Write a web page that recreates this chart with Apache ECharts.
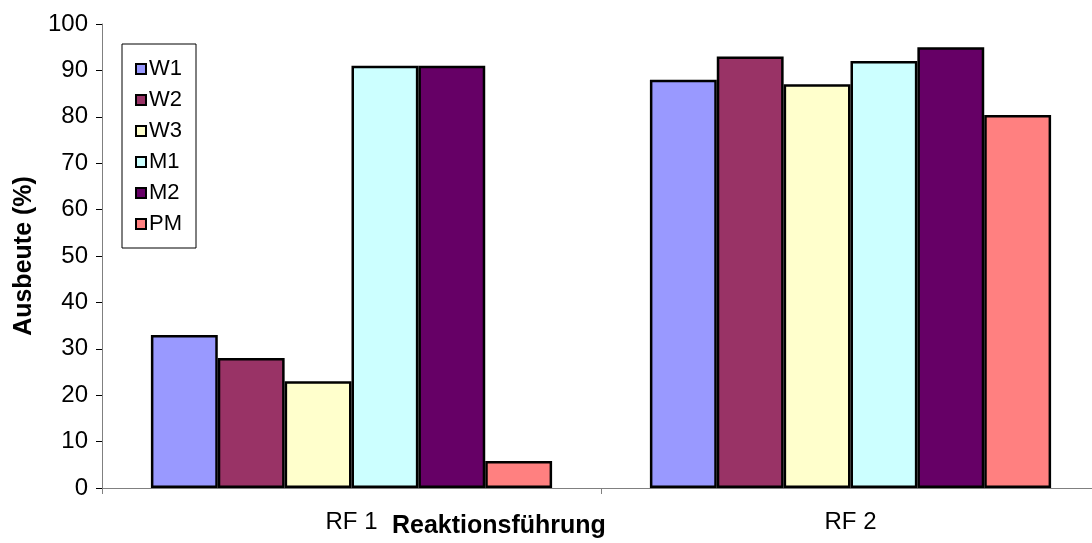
<!DOCTYPE html>
<html>
<head>
<meta charset="utf-8">
<script src="https://cdn.jsdelivr.net/npm/echarts@6/dist/echarts.min.js"></script>
<style>
  html, body { margin: 0; padding: 0; background: #fff; overflow: hidden; }
  /* the plot area continues a few pixels past the right edge of the page */
  #chart { width: 1100px; height: 543px; }
</style>
</head>
<body>
<div id="chart"></div>
<script>
// Reaction runs on the category axis
const categories = ['RF 1', 'RF 2'];

// Yield (%) per catalyst, one value per run
const seriesNames = ['W1', 'W2', 'W3', 'M1', 'M2', 'PM'];
const W1 = [33, 88];
const W2 = [28, 93];
const W3 = [23, 87];
const M1 = [91, 92];
const M2 = [91, 95];
const PM = [5.8, 80.4];
const seriesValues = [W1, W2, W3, M1, M2, PM];

const seriesColors = ['#9999FF', '#993366', '#FFFFCC', '#CCFFFF', '#660066', '#FF8080'];

const FONT = '"Liberation Sans", Arial, sans-serif';

const chart = echarts.init(document.getElementById('chart'), null, { renderer: 'canvas' });

chart.setOption({
  animation: false,
  backgroundColor: '#ffffff',
  textStyle: { fontFamily: FONT, color: '#000' },
  grid: { left: 102, top: 24, right: 0, bottom: 55, containLabel: false },
  legend: {
    orient: 'vertical',
    left: 122,
    top: 44,
    data: seriesNames,
    icon: 'rect',
    itemWidth: 10,
    itemHeight: 10,
    itemGap: 9,
    padding: [14, 14, 13, 13],
    borderColor: '#000',
    borderWidth: 1,
    backgroundColor: '#fff',
    textStyle: { fontFamily: FONT, fontSize: 22, color: '#000', padding: [0, 0, 0, -2] },
    itemStyle: { borderColor: '#000', borderWidth: 2 }
  },
  xAxis: {
    type: 'category',
    data: categories,
    boundaryGap: true,
    axisLine: { show: true, lineStyle: { color: '#808080', width: 1 } },
    axisTick: { show: true, length: 6, lineStyle: { color: '#808080' } },
    axisLabel: { fontFamily: FONT, fontSize: 24, color: '#000', margin: 22 },
    splitLine: { show: false }
  },
  yAxis: {
    type: 'value',
    min: 0,
    max: 100,
    interval: 10,
    name: 'Ausbeute (%)',
    nameLocation: 'middle',
    nameGap: 64,
    nameRotate: 90,
    nameTextStyle: { fontFamily: FONT, fontSize: 25, fontWeight: 'bold', color: '#000' },
    axisLine: { show: true, lineStyle: { color: '#808080', width: 1 } },
    axisTick: { show: true, length: 6, lineStyle: { color: '#000' } },
    axisLabel: { fontFamily: FONT, fontSize: 24, color: '#000', margin: 14 },
    splitLine: { show: false }
  },
  graphic: [{
    type: 'text',
    left: 392,
    top: 514,
    style: {
      text: 'Reaktionsführung',
      font: 'bold 25px ' + FONT,
      fill: '#000'
    }
  }],
  series: seriesNames.map((name, i) => ({
    name: name,
    type: 'bar',
    data: seriesValues[i],
    barGap: '0%',
    barCategoryGap: '19.6%',
    itemStyle: { color: seriesColors[i], borderColor: '#000', borderWidth: 2.5 }
  }))
});
</script>
</body>
</html>
